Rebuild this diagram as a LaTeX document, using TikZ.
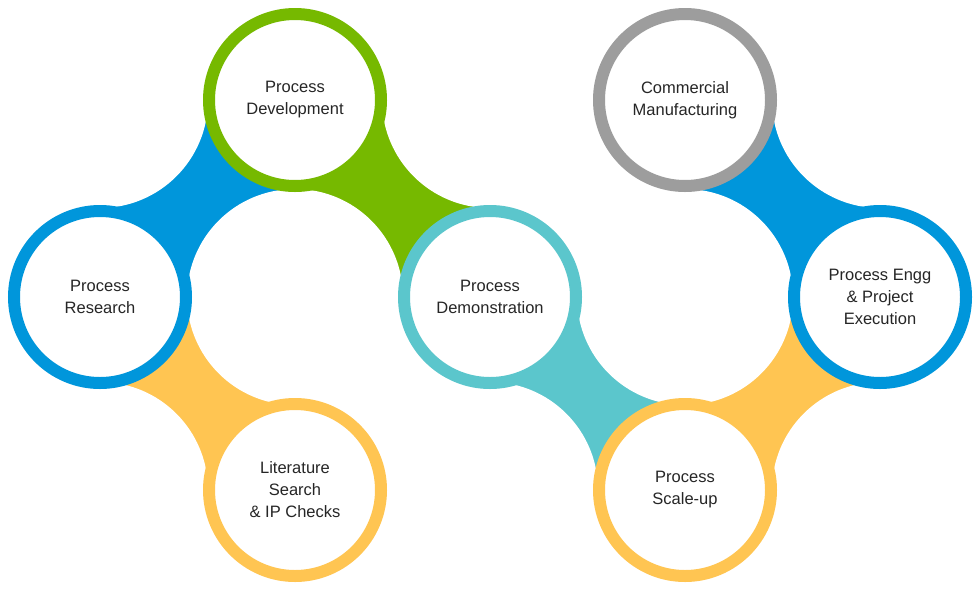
\documentclass[tikz,border=0pt]{standalone}
\usepackage{fontspec}
\setmainfont{Liberation Sans}
\definecolor{cblue}{RGB}{0,150,219}
\definecolor{cgreen}{RGB}{118,185,0}
\definecolor{cteal}{RGB}{91,198,204}
\definecolor{cyellow}{RGB}{255,197,82}
\definecolor{cgray}{RGB}{157,157,157}
\tikzset{ring/.style={circle,draw=#1,line width=12pt,fill=white,minimum size=172pt,inner sep=0pt,align=center,font=\fontsize{16.5}{22}\selectfont,text=black!85},
 gap/.style={fill=white}}
\begin{document}
\begin{tikzpicture}[x=1pt,y=-1pt]
\useasboundingbox (0,0) rectangle (980,590);
\coordinate (cR) at (100,297);
\coordinate (cD) at (295,100);
\coordinate (cM) at (490,297);
\coordinate (cL) at (295,490);
\coordinate (cS) at (685,490);
\coordinate (cE) at (880,297);
\coordinate (cC) at (685,100);
\coordinate (g1) at (100,100);
\coordinate (g2) at (295,297);
\coordinate (g3) at (100,490);
\coordinate (g4) at (490,100);
\coordinate (g5) at (490,490);
\coordinate (g6) at (685,297);
\coordinate (g7) at (880,490);
\coordinate (g8) at (880,100);
\fill[cblue] (cR) -- (g1) -- (cD) -- (g2) -- cycle;
\fill[cyellow] (cR) -- (g3) -- (cL) -- (g2) -- cycle;
\fill[cgreen] (cD) -- (g2) -- (cM) -- (g4) -- cycle;
\fill[cteal] (cM) -- (g5) -- (cS) -- (g6) -- cycle;
\fill[cyellow] (cS) -- (g7) -- (cE) -- (g6) -- cycle;
\fill[cblue] (cE) -- (g8) -- (cC) -- (g6) -- cycle;
\foreach \g in {g1,g2,g3,g4,g5,g6,g7,g8} \fill[gap] (\g) circle (108);
\node[ring=cblue] (R) at (cR) {Process\\Research};
\node[ring=cgreen] (D) at (cD) {Process\\Development};
\node[ring=cteal] (M) at (cM) {Process\\Demonstration};
\node[ring=cyellow] (L) at (cL) {Literature\\Search\\\& IP Checks};
\node[ring=cyellow] (S) at (cS) {Process\\Scale-up};
\node[ring=cblue] (E) at (cE) {Process Engg\\\& Project\\Execution};
\node[ring=cgray] (C) at (cC) {Commercial\\Manufacturing};
\end{tikzpicture}
\end{document}
